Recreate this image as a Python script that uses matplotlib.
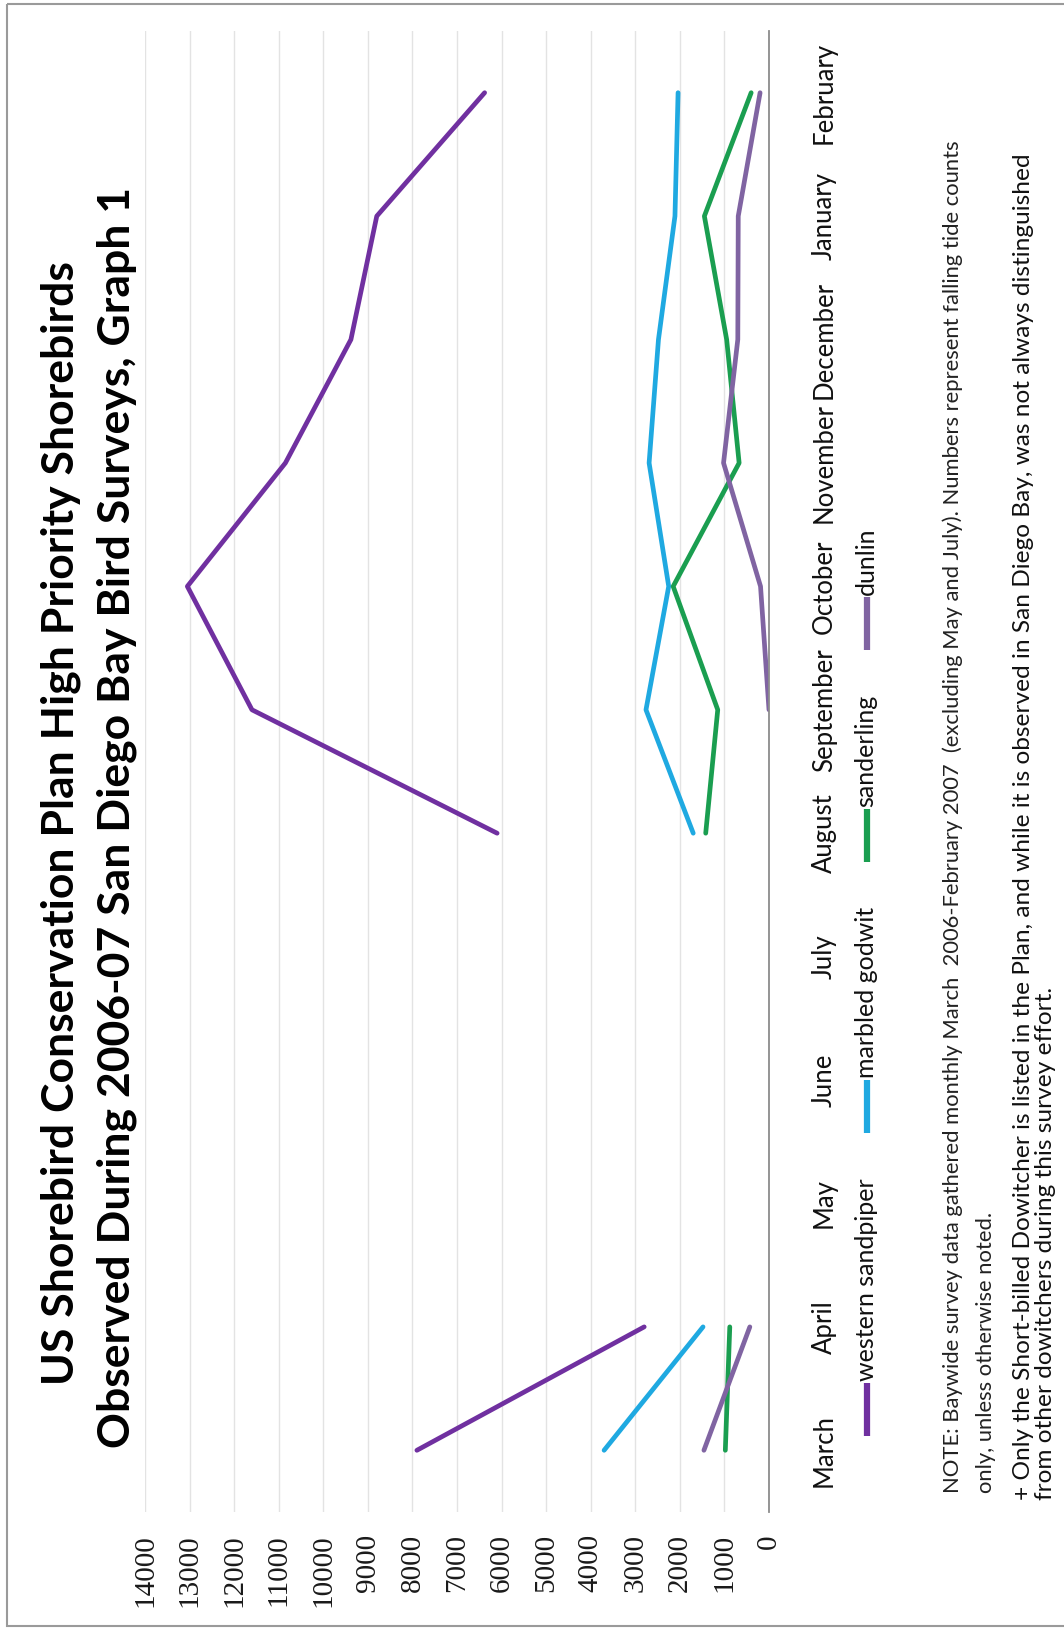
import numpy as np
import matplotlib
matplotlib.use("Agg")
import matplotlib.pyplot as plt
from matplotlib.patches import Rectangle

# ---- data -------------------------------------------------------------
months = ["March", "April", "May", "June", "July", "August", "September",
          "October", "November", "December", "January", "February"]
nan = np.nan
western_sandpiper = [7900, 2800, nan, nan, nan, 6100, 11600, 13050, 10850, 9380, 8800, 6380]
marbled_godwit = [3700, 1480, nan, nan, nan, 1700, 2760, 2250, 2690, 2480, 2110, 2040]
sanderling = [980, 880, nan, nan, nan, 1420, 1150, 2150, 670, 950, 1450, 400]
dunlin = [1460, 430, nan, nan, nan, nan, 0, 190, 1020, 700, 690, 200]

series_names = ["western sandpiper", "marbled godwit", "sanderling", "dunlin"]
series_values = [western_sandpiper, marbled_godwit, sanderling, dunlin]
series_colors = ["#7030A0", "#1FA9E1", "#1A9E50", "#8064A2"]
value_ticks = list(range(0, 14001, 1000))

title_lines = ["US Shorebird Conservation Plan High Priority Shorebirds",
               "Observed During 2006-07 San Diego Bay Bird Surveys, Graph 1"]
note_lines = ["NOTE: Baywide survey data gathered monthly March  2006-February 2007  "
              "(excluding May and July). Numbers represent falling tide counts",
              "only, unless otherwise noted."]
plus_note_lines = ["+ Only the Short-billed Dowitcher is listed in the Plan, and while it "
                   "is observed in San Diego Bay, was not always distinguished",
                   "from other dowitchers during this survey effort."]

# ---- canvas (the page is laid out sideways, text reads bottom-to-top) --
W, H, DPI = 1064, 1629, 100
fig = plt.figure(figsize=(W / DPI, H / DPI), dpi=DPI, facecolor="white")

# pixel-space overlay for the frame, title, legend and notes
ov = fig.add_axes([0, 0, 1, 1], zorder=0)
ov.set_xlim(0, W)
ov.set_ylim(H, 0)
ov.axis("off")

ov.add_patch(Rectangle((7, 4), W + 20, 1622, fill=False, ec="#9A9A9A", lw=1.5))

sans = ["Lato", "DejaVu Sans"]

# title
ov.text(61, 823, title_lines[0], rotation=90, ha="center", va="center",
        fontsize=32, fontweight="bold", family=sans)
ov.text(117, 818, title_lines[1], rotation=90, ha="center", va="center",
        fontsize=32, fontweight="bold", family=sans)

# ---- plot area: values run right-to-left, months bottom-to-top ---------
ax = fig.add_axes([145 / W, 1 - 1512 / H, 624 / W, 1481 / H], zorder=1)
ax.set_facecolor("none")
positions = np.arange(len(months))
for vals, col in zip(series_values, series_colors):
    ax.plot(vals, positions, color=col, lw=3.4,
            solid_capstyle="round", solid_joinstyle="round")

ax.set_xlim(14000, 0)
ax.set_ylim(-0.5, len(months) - 0.5)

ax.set_xticks(value_ticks)
ax.set_xticklabels([str(v) for v in value_ticks], rotation=90,
                   family=["Liberation Serif"], fontsize=21, color="#1A1A1A")
ax.tick_params(axis="x", length=0, pad=16)
ax.grid(axis="x", color="#E3E3E3", lw=1.0)
ax.set_axisbelow(True)

ax.set_yticks(positions)
ax.set_yticklabels(months)
ax.tick_params(axis="y", length=0, left=False, right=False,
               labelleft=False, labelright=True, pad=31)
for lab in ax.get_yticklabels():
    lab.set_rotation(90)
    lab.set_va("center")
    lab.set_ha("left")
    lab.set_family(sans)
    lab.set_fontsize(18.5)
    lab.set_color("#111111")

for side in ("left", "top", "bottom"):
    ax.spines[side].set_visible(False)
ax.spines["right"].set_color("#8C8C8C")
ax.spines["right"].set_linewidth(1.3)

# ---- legend ------------------------------------------------------------
legend_starts = [1436, 1133, 862, 650]
for name, col, y0 in zip(series_names, series_colors, legend_starts):
    ov.plot([867, 867], [y0, y0 - 53], color=col, lw=4.5, solid_capstyle="butt")
    ov.text(866, y0 - 55, name, rotation=90, rotation_mode="anchor",
            ha="left", va="center", fontsize=18, family=sans, color="#111111")

# ---- notes -------------------------------------------------------------
for x, line in zip([953, 986], note_lines):
    ov.text(x, 1493, line, rotation=90, rotation_mode="anchor",
            ha="left", va="center", fontsize=15.8, family=sans, color="#222222")
for x, line in zip([1024, 1046], plus_note_lines):
    ov.text(x, 1500, line, rotation=90, rotation_mode="anchor",
            ha="left", va="center", fontsize=17.6, family=sans, color="#111111")

fig.savefig("out.png", dpi=DPI, facecolor="white")
